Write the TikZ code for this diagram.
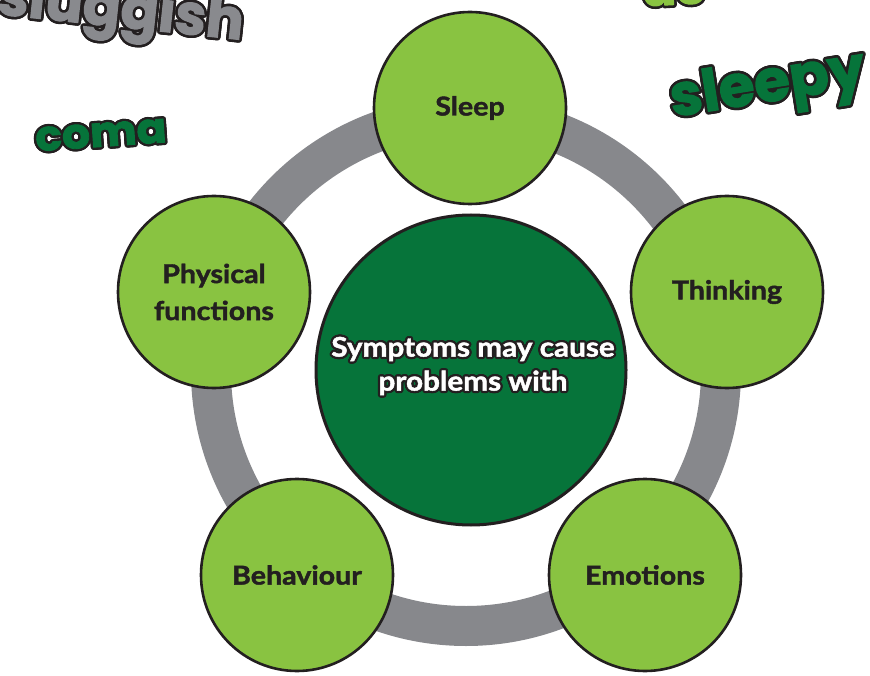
\documentclass[tikz,border=0pt]{standalone}
\usepackage{fontspec}
\setmainfont{Lato}
\newfontfamily\labelfont{Lato}[FakeStretch=1.1, BoldFeatures={FakeBold=1.6}]
\newfontfamily\wordfont{Poppins}[BoldFeatures={FakeBold=2}]

\definecolor{leaf}{RGB}{137,195,65}
\definecolor{forest}{RGB}{6,116,58}
\definecolor{ringgrey}{RGB}{135,136,140}
\definecolor{ink}{RGB}{35,31,32}
\definecolor{wordgrey}{RGB}{137,138,142}

% Text with a dark halo: dark copies around a circle, the coloured text on top
\newcommand\haloword[6]{%
  \foreach \a [count=\i] in {0,22.5,...,337.5}{%
    \node[#3, text=ink, shift={(\a:#5pt)}] (#1h\i) at #2 {#6};
  }%
  \node[#3, text=#4] (#1) at #2 {#6};
}

\tikzset{
  topic/.style={circle, draw=ink, line width=2.6pt, fill=leaf,
    minimum size=192pt, inner sep=0pt, align=center, text=ink,
    font=\labelfont\bfseries\fontsize{26}{37}\selectfont},
  hub/.style={circle, draw=ink, line width=3pt, fill=forest,
    minimum size=310pt, inner sep=0pt},
  bigword/.style={inner sep=0pt},
}

\begin{document}
\begin{tikzpicture}[x=1pt,y=-1pt]
\useasboundingbox (0,0) rectangle (870,676);

% loose words scattered round the diagram
\haloword{sluggish}{(-4,14)}{bigword, anchor=base west, rotate=-6,
  font=\wordfont\bfseries\fontsize{56}{56}\selectfont}{wordgrey}{2.6}{sluggish}
\haloword{nervous}{(706,3)}{bigword, anchor=base east, rotate=3,
  font=\wordfont\bfseries\fontsize{52}{52}\selectfont}{leaf}{2.6}{us}
\haloword{sleepy}{(768,88)}{bigword, rotate=9,
  font=\wordfont\bfseries\fontsize{58}{58}\selectfont}{forest}{2.6}{sleepy}
\haloword{coma}{(101,135)}{bigword, rotate=4, xscale=1.05,
  font=\wordfont\bfseries\fontsize{42}{42}\selectfont}{forest}{2.3}{coma}

% grey ring linking the topics
\draw[ringgrey, line width=40pt] (466,371) circle[radius=255pt];

% centre
\node[hub] (hub) at (471,370) {};
\haloword{hubtext}{(473,366)}{align=center,
  font=\labelfont\bfseries\fontsize{27}{34}\selectfont}{white}{2.2}{Symptoms may cause\\problems with}

% topics
\node[topic] (sleep)    at (470,108) {Sleep};
\node[topic] (thinking) at (727,292) {Thinking};
\node[topic] (emotions) at (645,575) {Emotions};
\node[topic] (behav)    at (297,575) {Behaviour};
\node[topic] (physical) at (214,292) {Physical\\functions};
\end{tikzpicture}
\end{document}
